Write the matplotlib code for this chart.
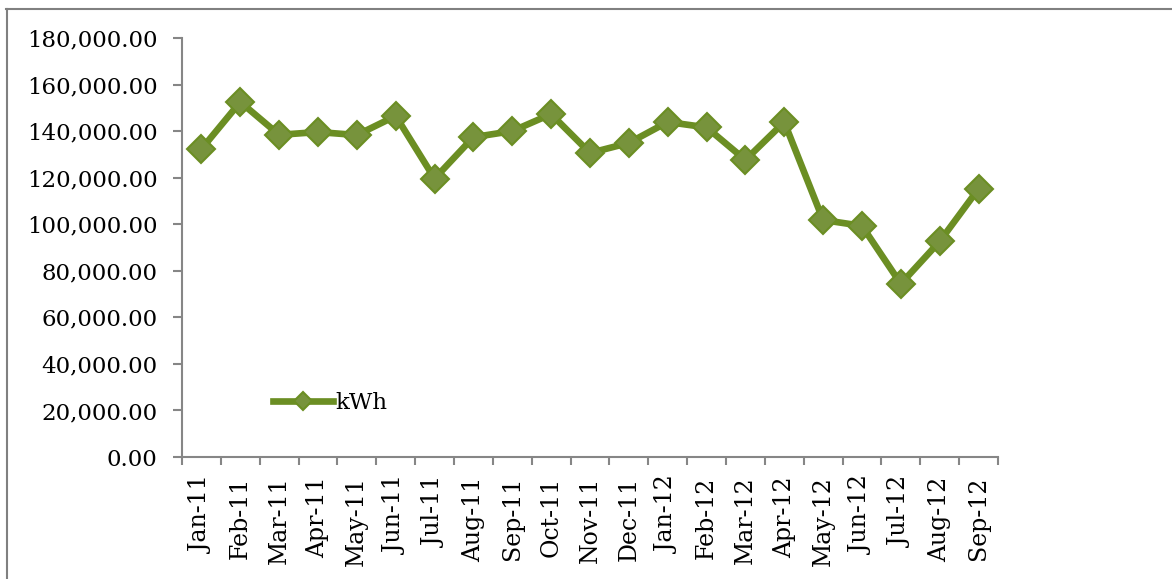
import matplotlib
matplotlib.use('Agg')
from matplotlib import pyplot as plt
from matplotlib.lines import Line2D
from matplotlib.ticker import FuncFormatter

months = ['Jan-11', 'Feb-11', 'Mar-11', 'Apr-11', 'May-11', 'Jun-11',
          'Jul-11', 'Aug-11', 'Sep-11', 'Oct-11', 'Nov-11', 'Dec-11',
          'Jan-12', 'Feb-12', 'Mar-12', 'Apr-12', 'May-12', 'Jun-12',
          'Jul-12', 'Aug-12', 'Sep-12']
kwh = [132300, 152500, 138400, 139600, 138300, 146500,
       119600, 137400, 140000, 147300, 130600, 134900,
       143900, 141600, 127600, 143900, 101800, 99300,
       74400, 92600, 115200]
y_ticks = list(range(0, 180001, 20000))

plt.rcParams['font.family'] = 'DejaVu Serif'

fig = plt.figure(figsize=(11.72, 5.79), dpi=100)
ax = fig.add_axes([0.1553, 0.2107, 0.6962, 0.7237])

x = list(range(len(months)))
ax.plot(x, kwh, color='#6B8E23', lw=4.8, marker='D', ms=14,
        mfc='#77933C', mec='#6B8E23', mew=1.5, label='kWh')

ax.set_xlim(-0.5, len(months) - 0.5)
ax.set_ylim(0, 180000)
ax.set_yticks(y_ticks)
ax.yaxis.set_major_formatter(FuncFormatter(lambda v, p: '{:,.2f}'.format(v)))

ax.set_xticks(x)
ax.set_xticklabels(months, rotation=90)
ax.set_xticks([i - 0.5 for i in range(len(months) + 1)], minor=True)

gray = '#868686'
for side in ('top', 'right'):
    ax.spines[side].set_visible(False)
for side in ('left', 'bottom'):
    ax.spines[side].set_color(gray)
    ax.spines[side].set_linewidth(1.5)

ax.tick_params(axis='y', direction='out', length=6.5, width=1.5,
               color=gray, pad=11, labelsize=16.5)
ax.tick_params(axis='x', which='major', length=0, pad=14, labelsize=17)
ax.tick_params(axis='x', which='minor', direction='out', length=6,
               width=1.5, color=gray)

leg = ax.legend(loc='center left', bbox_to_anchor=(0.112, 0.129),
                frameon=False, fontsize=16.5, handlelength=2.6,
                handletextpad=0.1, borderpad=0, borderaxespad=0)
leg.legend_handles[0].set_markersize(9)

# thin frame round the chart area
fig.add_artist(Line2D([0.005, 1.0], [0.984, 0.984], color='#808080', lw=1.5,
                      transform=fig.transFigure))
fig.add_artist(Line2D([0.006, 0.006], [0.0, 0.984], color='#808080', lw=1.5,
                      transform=fig.transFigure))

fig.savefig('out.png', dpi=100)
